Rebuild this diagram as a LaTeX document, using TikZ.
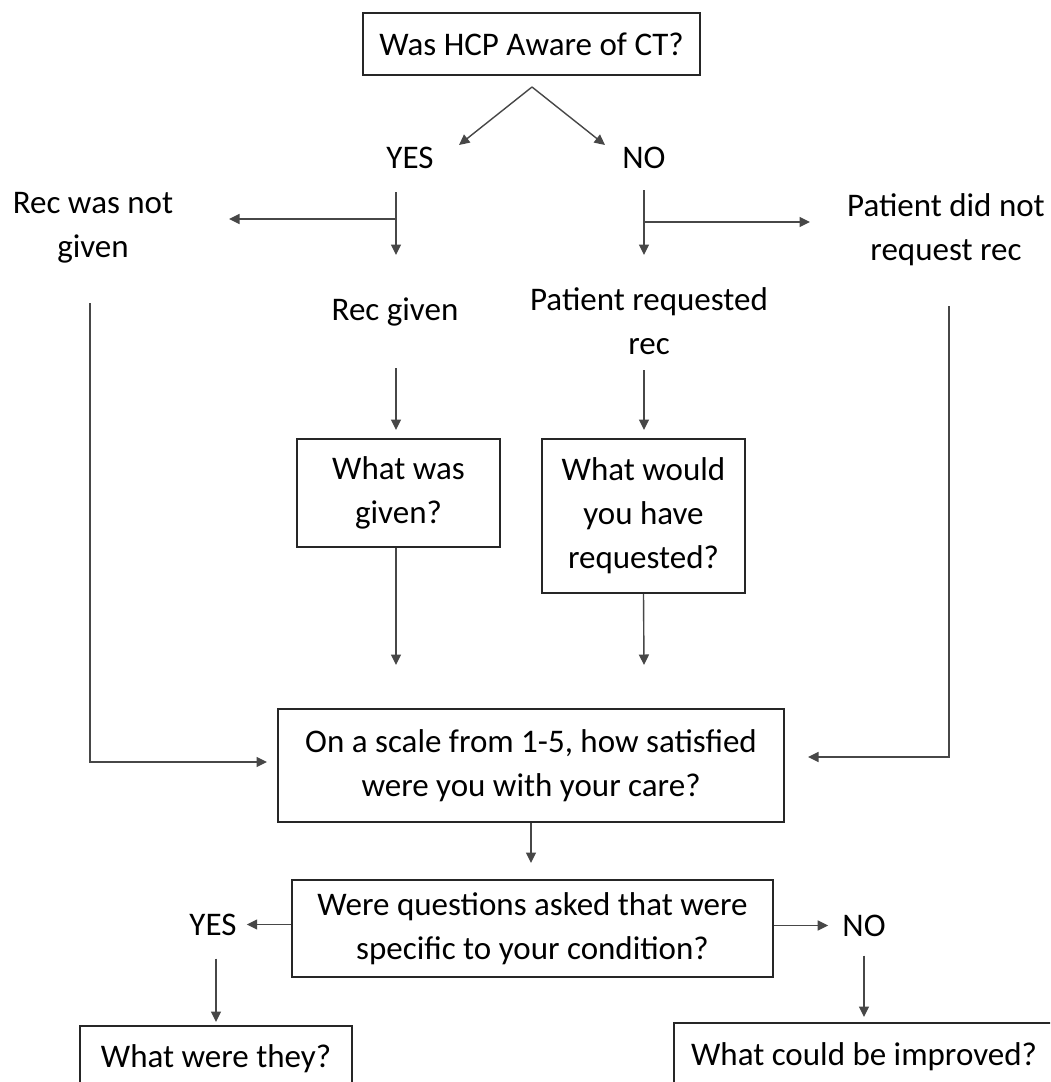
\documentclass[tikz,border=0pt]{standalone}
\usepackage{fontspec}
\setmainfont{Carlito}
\usetikzlibrary{arrows.meta}
\begin{document}
\begin{tikzpicture}[x=1pt,y=-1pt,
  box/.style={draw=black!85, line width=2pt, align=center, inner sep=0pt, font=\fontsize{33}{44}\selectfont},
  lbl/.style={align=center, inner sep=0pt, font=\fontsize{33}{44}\selectfont},
  link/.style={draw=black!72, line width=1.4pt},
  arr/.style={link, -{Triangle[length=10.5pt,width=10pt]}}]
\useasboundingbox (0,0) rectangle (1050,1082);
\clip (0,0) rectangle (1050,1082);
\fill[white] (0,0) rectangle (1050,1082);

% nodes
\node[box, minimum width=337pt, minimum height=62pt] (top) at (531.5,44) {Was HCP Aware of CT?};
\node[lbl] (yes1) at (410,157.5) {YES};
\node[lbl] (no1) at (644,157.5) {NO};
\node[lbl] (recnot) at (93,227.6) {Rec was not\\given};
\node[lbl] (recgiven) at (395,311.7) {Rec given};
\node[lbl] (patreq) at (649,321.5) {Patient requested\\rec};
\node[lbl] (patnot) at (946,230) {Patient did not\\request rec};
\node[box, minimum width=203pt, minimum height=108pt] (whatgiven) at (398.5,493) {What was\\given?};
\node[box, minimum width=203pt, minimum height=154pt] (wouldreq) at (643.5,516) {What would\\you have\\requested?};
\node[box, minimum width=506pt, minimum height=113pt] (scale) at (531,765.5) {On a scale from 1-5, how satisfied\\were you with your care?};
\node[box, minimum width=481pt, minimum height=97pt] (quest) at (532.5,928.5) {Were questions asked that were\\specific to your condition?};
\node[lbl] (yes2) at (213,924.5) {YES};
\node[lbl] (no2) at (864,925.5) {NO};
\node[box, minimum width=272pt, minimum height=66pt] (they) at (216,1059) {What were they?};
\node[box, minimum width=380pt, minimum height=68pt] (improved) at (864,1057) {What could be improved?};

% free ends
\coordinate (apex) at (532,87);
\coordinate (yesTip) at (459,145);
\coordinate (noTip) at (605,145);
\coordinate (yesOut) at (396,192);
\coordinate (yesJ) at (396,219);
\coordinate (recgivenIn) at (396,255);
\coordinate (recnotIn) at (229,219);
\coordinate (noOut) at (644,190);
\coordinate (noJ) at (644,222);
\coordinate (patreqIn) at (644,255);
\coordinate (patnotIn) at (810,222);
\coordinate (recnotOut) at (90,303);
\coordinate (leftTip) at (267,762);
\coordinate (patnotOut) at (949,306);
\coordinate (rightTip) at (808,757);
\coordinate (recgivenOut) at (396,368);
\coordinate (whatgivenIn) at (396,430);
\coordinate (patreqOut) at (644,370);
\coordinate (wouldreqIn) at (644,430);
\coordinate (givenTip) at (396,665);
\coordinate (wouldTip) at (644,665);

% connectors
\draw[arr] (apex) -- (yesTip);
\draw[arr] (apex) -- (noTip);
\draw[arr] (yesOut) -- (recgivenIn);
\draw[arr] (yesJ) -- (recnotIn);
\draw[arr] (noOut) -- (patreqIn);
\draw[arr] (noJ) -- (patnotIn);
\draw[arr] (recnotOut) |- (leftTip);
\draw[arr] (patnotOut) |- (rightTip);
\draw[arr] (recgivenOut) -- (whatgivenIn);
\draw[arr] (patreqOut) -- (wouldreqIn);
\draw[arr] ([xshift=-2.5pt]whatgiven.south) -- (givenTip);
\draw[arr] (wouldreq.south) -- (wouldTip);
\draw[arr, shorten >=16pt] (scale.south) -- (scale.south |- quest.north);
\draw[arr, shorten >=10pt] (quest.west |- yes2) -- (yes2.east);
\draw[arr, shorten >=14pt] (quest.east |- no2) -- (no2.west);
\draw[arr, shorten <=23pt, shorten >=3pt] (they.north |- yes2.south) -- (they.north);
\draw[arr, shorten <=19pt, shorten >=5pt] (no2.south) -- (improved.north);
\end{tikzpicture}
\end{document}
